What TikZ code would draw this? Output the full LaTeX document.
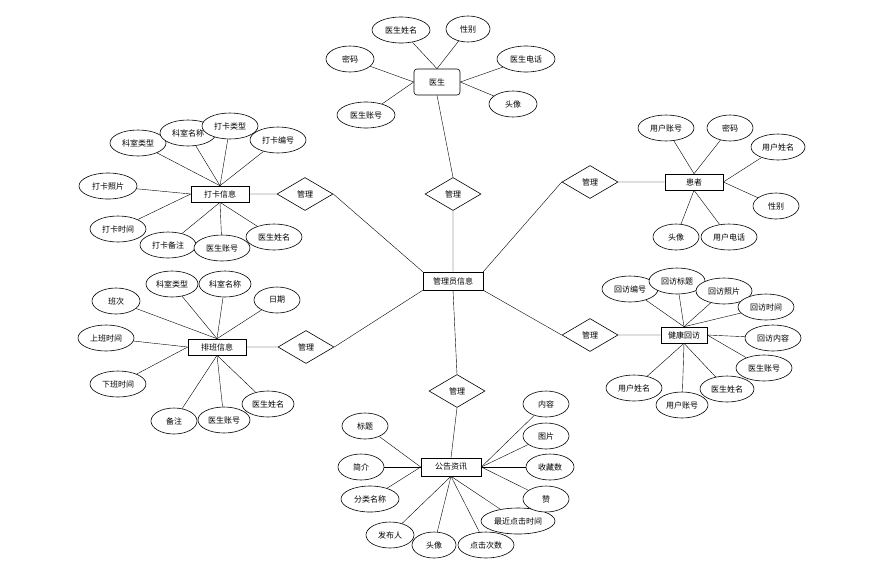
\documentclass[tikz,border=0pt]{standalone}
\usepackage{fontspec}
\setmainfont{Noto Sans CJK SC}
\usetikzlibrary{shapes.geometric,backgrounds}

\tikzset{
  every node/.style={font=\fontsize{8}{9}\selectfont},
  attr/.style={draw,ellipse,fill=white,minimum height=26pt,minimum width=#1,inner sep=0pt},
  attr/.default=56pt,
  ent/.style={draw,rectangle,fill=white,minimum height=16pt,minimum width=#1,inner sep=1pt},
  ent/.default=58pt,
  rel/.style={draw,diamond,fill=white,minimum width=56pt,minimum height=33pt,inner sep=0pt},
}

\begin{document}
\begin{tikzpicture}[x=1pt,y=-1pt,line width=0.6pt]
  \useasboundingbox (0,0) rectangle (885,574);
  % centre
  \node[ent=60pt,minimum height=18pt] (admin) at (453,281) {管理员信息};
  % doctor
  \node[ent=46pt,minimum height=26pt,rounded corners=3pt] (ys) at (437,82) {医生};
  \node[attr=58pt] (ysname) at (401,30) {医生姓名};
  \node[attr=44pt] (yssex) at (468,29) {性别};
  \node[attr=48pt] (yspwd) at (350,59) {密码};
  \node[attr=58pt] (ystel) at (526,59) {医生电话};
  \node[attr=48pt] (ysimg) at (513,104) {头像};
  \node[attr=58pt] (ysacc) at (366,115) {医生账号};
  \node[rel] (r1) at (453,194) {管理};
  % patient
  \node[ent] (hz) at (694,182) {患者};
  \node[rel] (r2) at (590,182) {管理};
  \node[attr] (hzacc) at (666,128) {用户账号};
  \node[attr=46pt] (hzpwd) at (730,128) {密码};
  \node[attr=54pt] (hzname) at (778,147) {用户姓名};
  \node[attr=46pt] (hzsex) at (776,206) {性别};
  \node[attr=46pt] (hzimg) at (676,237) {头像};
  \node[attr] (hztel) at (729,237) {用户电话};
  % clock-in
  \node[ent] (dk) at (220,194) {打卡信息};
  \node[rel] (r3) at (305,194) {管理};
  \node[attr] (dk1) at (138,143) {科室类型};
  \node[attr] (dk2) at (188,133) {科室名称};
  \node[attr] (dk3) at (230,126) {打卡类型};
  \node[attr] (dk4) at (278,140) {打卡编号};
  \node[attr=58pt] (dk5) at (108,186) {打卡照片};
  \node[attr] (dk6) at (118,229) {打卡时间};
  \node[attr] (dk7) at (168,245) {打卡备注};
  \node[attr] (dk8) at (222,248) {医生账号};
  \node[attr] (dk9) at (274,237) {医生姓名};
  % schedule
  \node[ent] (pb) at (217,347) {排班信息};
  \node[rel] (r4) at (306,347) {管理};
  \node[attr=52pt] (pb1) at (172,284) {科室类型};
  \node[attr=52pt] (pb2) at (225,284) {科室名称};
  \node[attr=46pt] (pb3) at (277,300) {日期};
  \node[attr=48pt] (pb4) at (116,301) {班次};
  \node[attr] (pb5) at (106,338) {上班时间};
  \node[attr] (pb6) at (118,384) {下班时间};
  \node[attr=46pt] (pb7) at (174,421) {备注};
  \node[attr=52pt] (pb9) at (268,404) {医生姓名};
  \node[attr=52pt] (pb8) at (224,420) {医生账号};
  % follow-up
  \node[ent=46pt] (hf) at (684,335) {健康回访};
  \node[rel] (r5) at (590,335) {管理};
  \node[attr] (hf1) at (630,289) {回访编号};
  \node[attr] (hf2) at (677,281) {回访标题};
  \node[attr] (hf3) at (724,291) {回访照片};
  \node[attr] (hf4) at (766,307) {回访时间};
  \node[attr] (hf5) at (773,338) {回访内容};
  \node[attr] (hf6) at (764,368) {医生账号};
  \node[attr=54pt] (hf7) at (727,389) {医生姓名};
  \node[attr] (hf9) at (634,388) {用户姓名};
  \node[attr=52pt] (hf8) at (682,405) {用户账号};
  % notices
  \node[ent=60pt,minimum height=18pt] (gg) at (451,467) {公告资讯};
  \node[rel] (r6) at (457,391) {管理};
  \node[attr=46pt] (gg1) at (365,426) {标题};
  \node[attr=46pt] (gg2) at (361,467) {简介};
  \node[attr=58pt] (gg3) at (370,499) {分类名称};
  \node[attr=48pt] (gg4) at (390,535) {发布人};
  \node[attr=44pt] (gg5) at (434,545) {头像};
  \node[attr] (gg6) at (486,545) {点击次数};
  \node[attr=74pt] (gg7) at (518,521) {最近点击时间};
  \node[attr=46pt] (gg8) at (546,499) {赞};
  \node[attr=48pt] (gg9) at (550,467) {收藏数};
  \node[attr=46pt] (gg10) at (546,436) {图片};
  \node[attr=46pt] (gg11) at (546,404) {内容};

  \begin{scope}[on background layer]
    \draw (ys.south) -- (r1.north) (r1.south) -- (admin.north);
    \draw (admin.north east) -- (r2.west) (r2.east) -- (hz.west);
    \draw (admin.south east) -- (r5.west) (r5.east) -- (hf.west);
    \draw (r3.east) -- (admin.north west) (dk.east) -- (r3.west);
    \draw (r4.east) -- (admin.south west) (pb.east) -- (r4.west);
    \draw (admin.south) -- (r6.north) (r6.south) -- (gg.north);
    % doctor
    \foreach \a in {ysname,yssex} \draw (\a) -- (ys.north);
    \foreach \a in {yspwd,ysacc} \draw (\a) -- (ys.west);
    \foreach \a in {ystel,ysimg} \draw (\a) -- (ys.east);
    % patient
    \foreach \a in {hzacc,hzpwd} \draw (\a) -- (hz.north);
    \foreach \a in {hzname,hzsex} \draw (\a) -- (hz.east);
    \foreach \a in {hzimg,hztel} \draw (\a) -- (hz.south);
    % clock-in
    \foreach \a in {dk1,dk2,dk3,dk4} \draw (\a) -- (dk.north);
    \foreach \a in {dk5,dk6} \draw (\a) -- (dk.west);
    \foreach \a in {dk7,dk8,dk9} \draw (\a) -- (dk.south);
    % schedule
    \foreach \a in {pb1,pb2,pb3,pb4} \draw (\a) -- (pb.north);
    \foreach \a in {pb5,pb6} \draw (\a) -- (pb.west);
    \foreach \a in {pb7,pb8,pb9} \draw (\a) -- (pb.south);
    % follow-up
    \foreach \a in {hf1,hf2,hf3,hf4} \draw (\a) -- (hf.north);
    \foreach \a in {hf5,hf6} \draw (\a) -- (hf.east);
    \foreach \a in {hf7,hf8,hf9} \draw (\a) -- (hf.south);
    % notices
    \foreach \a in {gg1,gg2,gg3} \draw (\a) -- (gg.west);
    \foreach \a in {gg8,gg9,gg10,gg11} \draw (\a) -- (gg.east);
    \foreach \a in {gg4,gg5,gg6,gg7} \draw (\a) -- (gg.south);
  \end{scope}
\end{tikzpicture}
\end{document}
